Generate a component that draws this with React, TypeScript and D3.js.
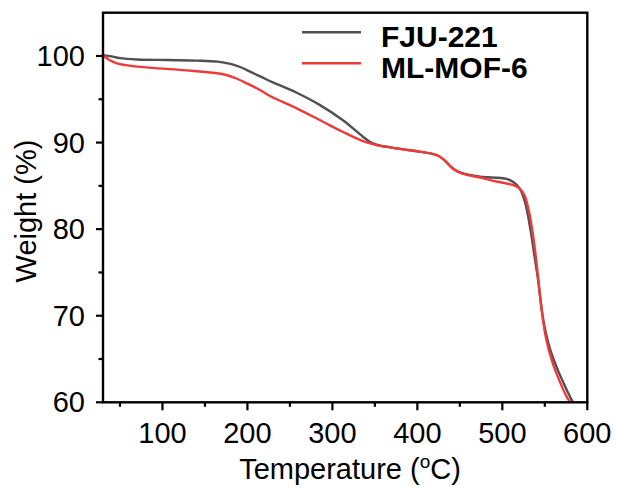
import React from "react";
import * as d3 from "d3";

const fjuT = [30, 40, 50, 70, 105, 140, 165, 180, 192, 205, 217, 230, 258, 285, 312, 336, 344, 352, 368, 395, 415, 425, 432, 440, 448, 457, 474, 505, 514, 521, 527, 533, 538, 542, 548, 556, 565, 575, 583];
const fjuW = [100.1, 99.95, 99.75, 99.6, 99.53, 99.47, 99.35, 99.08, 98.7, 98.1, 97.55, 96.95, 95.75, 94.35, 92.6, 90.67, 90.09, 89.75, 89.45, 89.05, 88.75, 88.45, 87.95, 87.15, 86.65, 86.35, 86.05, 85.8, 85.35, 84.6, 83.0, 80.0, 76.8, 74.2, 69.6, 66.2, 63.8, 61.6, 60];
const mlT = [30, 38, 46.5, 65, 124, 164, 175, 187, 200, 215, 227, 258, 289, 312, 336, 352, 368, 395, 415, 425, 432, 440, 448, 457, 474, 493, 512, 520, 526, 531, 536, 540.5, 545, 551, 559, 568, 576, 580];
const mlW = [100.1, 99.5, 99.15, 98.83, 98.37, 98.0, 97.8, 97.4, 96.8, 96.05, 95.35, 93.95, 92.4, 91.25, 90.17, 89.71, 89.45, 89.05, 88.75, 88.45, 87.95, 87.15, 86.6, 86.3, 85.96, 85.5, 85.1, 84.7, 83.9, 82.2, 79.4, 75.9, 71.8, 67.6, 64.6, 62.3, 60.6, 60];

const seriesNames = ["FJU-221", "ML-MOF-6"];
const seriesColors = ["#505050", "#f03a3a"];
const xMajor = [100, 200, 300, 400, 500, 600];
const xMinor = [50, 150, 250, 350, 450, 550];
const yMajor = [60, 70, 80, 90, 100];
const yMinor = [65, 75, 85, 95];

export default function App() {
  const L = 103, R = 587.3, T = 12.7, B = 402.3;
  const x = d3.scaleLinear().domain([30, 600]).range([L, R]);
  const y = d3.scaleLinear().domain([60, 105]).range([B, T]);
  const line = d3
    .line<[number, number]>()
    .x((d) => x(d[0]))
    .y((d) => y(d[1]))
    .curve(d3.curveCatmullRom.alpha(0.5));
  const fju: [number, number][] = fjuT.map((t, i) => [t, fjuW[i]]);
  const ml: [number, number][] = mlT.map((t, i) => [t, mlW[i]]);
  const font = "Arial, 'Liberation Sans', Helvetica, sans-serif";
  return (
    <svg
      width={619}
      height={490}
      style={{ position: "absolute", left: 0, top: 0, background: "#fff" }}
      fontFamily={font}
    >
      <defs>
        <clipPath id="plotclip">
          <rect x={L} y={T} width={R - L} height={B - T} />
        </clipPath>
      </defs>
      <g clipPath="url(#plotclip)" fill="none" strokeWidth={2.4} strokeLinejoin="round">
        <path d={line(fju) || ""} stroke={seriesColors[0]} />
        <path d={line(ml) || ""} stroke={seriesColors[1]} />
      </g>
      <rect x={L} y={T} width={R - L} height={B - T} fill="none" stroke="#000" strokeWidth={2.4} />
      {xMajor.map((v) => (
        <g key={"xm" + v}>
          <line x1={x(v)} x2={x(v)} y1={B} y2={B + 8} stroke="#000" strokeWidth={2.2} />
          <text x={x(v)} y={443.3} fontSize={29} textAnchor="middle">{v}</text>
        </g>
      ))}
      {xMinor.map((v) => (
        <line key={"xn" + v} x1={x(v)} x2={x(v)} y1={B} y2={B + 4.5} stroke="#000" strokeWidth={2.2} />
      ))}
      {yMajor.map((v) => (
        <g key={"ym" + v}>
          <line x1={L - 7} x2={L} y1={y(v)} y2={y(v)} stroke="#000" strokeWidth={2.2} />
          <text x={85} y={y(v)} dy="0.35em" fontSize={29} textAnchor="end">{v}</text>
        </g>
      ))}
      {yMinor.map((v) => (
        <line key={"yn" + v} x1={L - 4.5} x2={L} y1={y(v)} y2={y(v)} stroke="#000" strokeWidth={2.2} />
      ))}
      <text x={350} y={479} fontSize={29} textAnchor="middle">
        Temperature (<tspan fontSize={19} dy={-11}>o</tspan><tspan dy={11}>C)</tspan>
      </text>
      <text transform="translate(36,211) rotate(-90)" fontSize={29} textAnchor="middle">
        Weight (%)
      </text>
      {seriesNames.map((n, i) => (
        <g key={n}>
          <line x1={302} x2={361} y1={32.3 + i * 31} y2={32.3 + i * 31} stroke={seriesColors[i]} strokeWidth={2.4} />
          <text x={381} y={46.6 + i * 31.4} fontSize={30} fontWeight="bold">{n}</text>
        </g>
      ))}
    </svg>
  );
}
